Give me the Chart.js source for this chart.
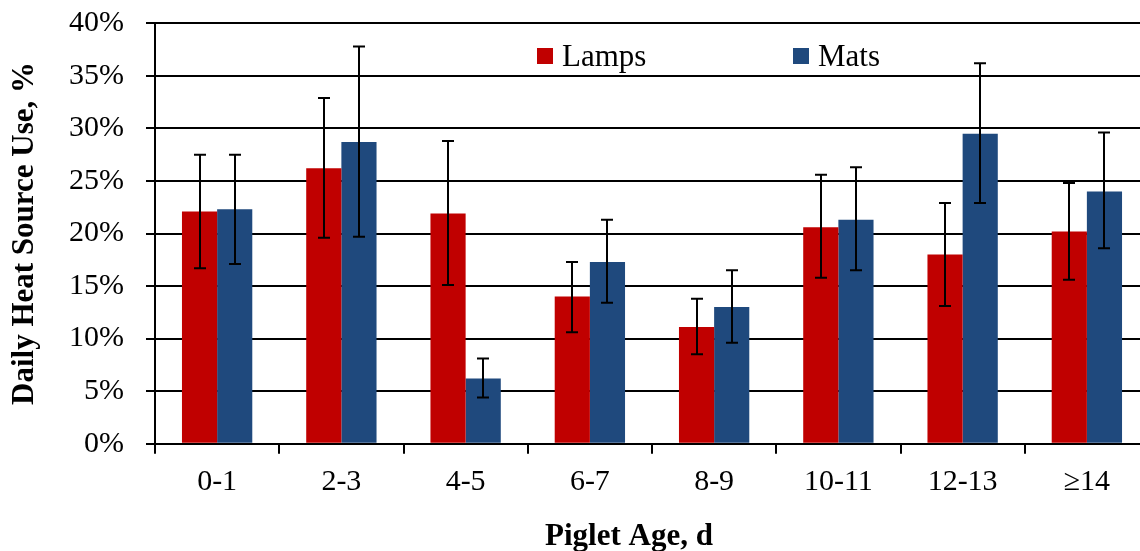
<!DOCTYPE html>
<html>
<head>
<meta charset="utf-8">
<script src="https://cdn.jsdelivr.net/npm/chart.js@4.4.1/dist/chart.umd.min.js"></script>
<style>
  html, body { margin: 0; padding: 0; background: #ffffff; overflow: hidden; width: 1140px; height: 551px; }
  canvas { display: block; }
</style>
</head>
<body>
<canvas id="c" width="1150" height="551"></canvas>
<script>
const categories = ['0-1', '2-3', '4-5', '6-7', '8-9', '10-11', '12-13', '\u226514'];
const lamps     = [22.1, 26.2, 21.9, 14.0, 11.1, 20.6, 18.0, 20.2];
const lampsHigh = [27.5, 32.9, 28.8, 17.3, 13.8, 25.6, 22.9, 24.8];
const lampsLow  = [16.7, 19.6, 15.1, 10.6,  8.5, 15.8, 13.1, 15.6];
const mats      = [22.3, 28.7,  6.2, 17.3, 13.0, 21.3, 29.5, 24.0];
const matsHigh  = [27.5, 37.8,  8.1, 21.3, 16.5, 26.3, 36.2, 29.6];
const matsLow   = [17.1, 19.7,  4.4, 13.4,  9.6, 16.5, 22.9, 18.6];
const yTicks    = [0, 5, 10, 15, 20, 25, 30, 35, 40];
const yTitle = 'Daily Heat Source Use, %';
const xTitle = 'Piglet Age, d';

const SERIF = "'Times New Roman', 'Liberation Serif', serif";
const RED = '#C00000';
const BLUE = '#1F497D';

const errorBars = {
  id: 'errorBars',
  afterDatasetsDraw(chart) {
    const ctx = chart.ctx;
    const y = chart.scales.y;
    const ranges = [[lampsLow, lampsHigh], [matsLow, matsHigh]];
    ctx.save();
    ctx.strokeStyle = '#000';
    ctx.lineWidth = 2;
    chart.data.datasets.forEach((ds, di) => {
      const meta = chart.getDatasetMeta(di);
      meta.data.forEach((bar, i) => {
        const lo = y.getPixelForValue(ranges[di][0][i]);
        const hi = y.getPixelForValue(ranges[di][1][i]);
        const x = Math.round(bar.x);
        ctx.beginPath();
        ctx.moveTo(x, hi); ctx.lineTo(x, lo);
        ctx.moveTo(x - 6, hi); ctx.lineTo(x + 6, hi);
        ctx.moveTo(x - 6, lo); ctx.lineTo(x + 6, lo);
        ctx.stroke();
      });
    });
    ctx.restore();
  }
};

const customText = {
  id: 'customText',
  afterDraw(chart) {
    const ctx = chart.ctx;
    ctx.save();
    ctx.font = '31px ' + SERIF;
    ctx.textBaseline = 'alphabetic';
    ctx.textAlign = 'left';
    const items = [
      { x: 537, label: chart.data.datasets[0].label, color: chart.data.datasets[0].backgroundColor },
      { x: 793, label: chart.data.datasets[1].label, color: chart.data.datasets[1].backgroundColor }
    ];
    items.forEach(it => {
      ctx.fillStyle = it.color;
      ctx.fillRect(it.x, 48, 16, 16);
      ctx.fillStyle = '#000';
      ctx.fillText(it.label, it.x + 25, 65.5);
    });
    ctx.font = 'bold 31px ' + SERIF;
    ctx.textAlign = 'center';
    ctx.fillText(xTitle, 629, 545);
    ctx.restore();
  }
};

new Chart(document.getElementById('c'), {
  type: 'bar',
  data: {
    labels: categories,
    datasets: [
      { label: 'Lamps', data: lamps, backgroundColor: RED, borderWidth: 0, categoryPercentage: 0.566, barPercentage: 1.0 },
      { label: 'Mats', data: mats, backgroundColor: BLUE, borderWidth: 0, categoryPercentage: 0.566, barPercentage: 1.0 }
    ]
  },
  options: {
    responsive: false,
    animation: false,
    devicePixelRatio: 1,
    layout: { padding: { left: 0, right: 1, top: 23.3, bottom: 0 } },
    plugins: {
      legend: { display: false },
      tooltip: { enabled: false },
      title: { display: false }
    },
    scales: {
      x: {
        offset: true,
        grid: { offset: true, drawOnChartArea: false, drawTicks: true, tickLength: 10, color: '#000', lineWidth: 2 },
        border: { display: true, color: '#000', width: 2 },
        ticks: { color: '#000', font: { family: SERIF, size: 30 }, padding: 10, maxRotation: 0, autoSkip: false },
        afterFit(scale) { scale.height = 107.3; scale.paddingLeft = 0; scale.paddingRight = 0; }
      },
      y: {
        min: 0,
        max: 40,
        afterBuildTicks(scale) { scale.ticks = yTicks.map(v => ({ value: v })); },
        grid: { drawOnChartArea: true, drawTicks: true, tickLength: 9, color: '#000', lineWidth: 2 },
        border: { display: true, color: '#000', width: 2 },
        ticks: { color: '#000', font: { family: SERIF, size: 30 }, padding: 22, callback: v => v + '%' },
        title: { display: true, text: yTitle, color: '#000', font: { family: SERIF, size: 31, weight: 'bold' }, padding: { top: 6, bottom: 0 } },
        afterFit(scale) { scale.width = 155; scale.paddingTop = 0; scale.paddingBottom = 0; }
      }
    }
  },
  plugins: [errorBars, customText]
});
</script>
</body>
</html>
